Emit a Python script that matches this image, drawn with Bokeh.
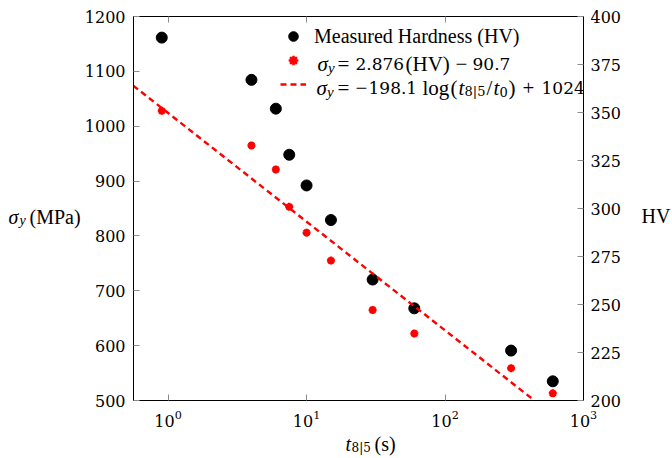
from bokeh.plotting import figure
from bokeh.models import (Range1d, LinearAxis, LogAxis, Label, Legend, LegendItem,
                          FixedTicker)
from bokeh.embed import file_html
from bokeh.resources import INLINE

# ---- data ----
t85 = [0.9, 4, 6, 7.5, 10, 15, 30, 60, 300, 600]                 # t_8|5 (s)
hv_measured = [389, 367, 352, 328, 312, 294, 263, 248, 226, 210]   # HV (right axis)
sigma_from_hv = [1028, 965, 921, 853, 806, 755, 665, 622, 559, 513]  # MPa (left axis)
fit_t = [0.56, 442]
fit_sigma = [1074, 500]
sigma_ticks = [500, 600, 700, 800, 900, 1000, 1100, 1200]
hv_ticks = [200, 225, 250, 275, 300, 325, 350, 375, 400]
t_ticks = [1, 10, 100, 1000]

FONT = "Liberation Serif"      # letters
NUMF = "DejaVu Serif"          # digits
TICK_COLOR = "#8c8c8c"

p = figure(width=672, height=458, x_axis_type="log",
           x_range=Range1d(0.5626, 1000), y_range=Range1d(500, 1200),
           output_backend="svg", toolbar_location=None,
           min_border_left=133, min_border_right=84,
           min_border_top=16, min_border_bottom=58)
p.extra_y_ranges = {"hv": Range1d(200, 400)}
p.xgrid.visible = False
p.ygrid.visible = False
p.outline_line_color = "black"
p.outline_line_width = 1
p.background_fill_color = "white"
p.border_fill_color = "white"


def style(ax, standoff=8, size="16px", font=NUMF):
    ax.axis_line_color = "black"
    ax.axis_line_width = 1
    ax.major_tick_in = 6
    ax.major_tick_out = 0
    ax.major_tick_line_color = TICK_COLOR
    ax.minor_tick_line_color = None
    ax.major_label_text_font = font
    ax.major_label_text_font_size = size
    ax.major_label_text_color = "black"
    ax.major_label_standoff = standoff
    ax.axis_label = None


xb = p.xaxis[0]
xb.ticker = FixedTicker(ticks=t_ticks, minor_ticks=[])
style(xb, standoff=9)

yl = p.yaxis[0]
yl.ticker = FixedTicker(ticks=sigma_ticks, minor_ticks=[])
style(yl, standoff=8)

xt = LogAxis(ticker=FixedTicker(ticks=t_ticks, minor_ticks=[]))
style(xt, standoff=0, size="1px")
xt.major_label_overrides = {1: "", 10: "", 100: "", 1000: ""}
xt.major_label_text_alpha = 0
p.add_layout(xt, "above")

yr = LinearAxis(y_range_name="hv", ticker=FixedTicker(ticks=hv_ticks, minor_ticks=[]))
style(yr, standoff=7)
p.add_layout(yr, "right")

# ---- glyphs ----
r_hv = p.scatter(t85, hv_measured, y_range_name="hv", marker="circle", size=11,
                 fill_color="black", line_color="black")
r_star = p.scatter(t85, sigma_from_hv, marker="asterisk", size=8,
                   line_color="red", line_width=2.5)
r_fit = p.line(fit_t, fit_sigma, line_color="red", line_width=2.4, line_dash="6 4")

legend = Legend(items=[LegendItem(label="Measured Hardness (HV)", renderers=[r_hv]),
                       LegendItem(label=" ", renderers=[r_star]),
                       LegendItem(label=" ", renderers=[r_fit])],
                location=(147, 304), padding=4, spacing=0, margin=0,
                glyph_width=26, glyph_height=24, label_height=24, label_standoff=8,
                border_line_color=None, background_fill_alpha=0,
                label_text_font=FONT, label_text_font_size="20px",
                label_text_color="black")
p.add_layout(legend)

# frame in page pixels: left 133, bottom 400
FL, FB = 133, 400


def lab(text, px, py, size="21px", style="normal", font=FONT):
    p.add_layout(Label(x=px - FL, y=FB - py, x_units="screen", y_units="screen",
                       text=text, text_font=font, text_font_size=size,
                       text_font_style=style, text_baseline="alphabetic",
                       text_align="left", text_color="black"))


def side(text, px, py, place, size="20px", style="normal", font=FONT):
    p.add_layout(Label(x=px, y=py, x_units="canvas", y_units="canvas",
                       text=text, text_font=font, text_font_size=size,
                       text_font_style=style, text_baseline="alphabetic",
                       text_align="left", text_color="black"), place)


# legend row 2: sigma_y = 2.876(HV) - 90.7
lab("σ", 317, 63, style="italic")
lab("y", 327.5, 67, size="15px", style="italic")
lab("=", 337, 63)
lab("2.876", 355, 63, size="17px", font=NUMF)
lab("(HV)", 405, 63)
lab("−", 455, 63)
lab("90.7", 472, 63, size="17px", font=NUMF)

# legend row 3: sigma_y = -198.1 log(t_8|5/t_0) + 1024
lab("σ", 316, 87, style="italic")
lab("y", 326.5, 91, size="15px", style="italic")
lab("=", 337, 87)
lab("−", 355, 87)
lab("198.1", 368, 87, size="17px", font=NUMF)
lab("log", 422, 87)
lab("(", 450, 87)
lab("t", 458, 87, style="italic")
lab("8|5", 464, 91, size="13px", font=NUMF)
lab("/", 486, 87)
lab("t", 493, 87, style="italic")
lab("0", 499, 91, size="13px", font=NUMF)
lab(")", 508, 87)
lab("+", 522, 87)
lab("1024", 541, 87, size="17px", font=NUMF)

# axis labels (in side panels so they are not clipped to the frame)
side("σ", 8, 216, "left", style="italic")
side("y", 19, 220, "left", size="14px", style="italic")
side("(MPa)", 29, 216, "left")
side("t", 345, 443, "left", style="italic")
side("8|5", 351, 447, "right", size="12px", font=NUMF)
side("(s)", 374, 443, "below")
side("HV", 641, 215, "right")

open("out.html", "w").write(file_html(p, INLINE))
